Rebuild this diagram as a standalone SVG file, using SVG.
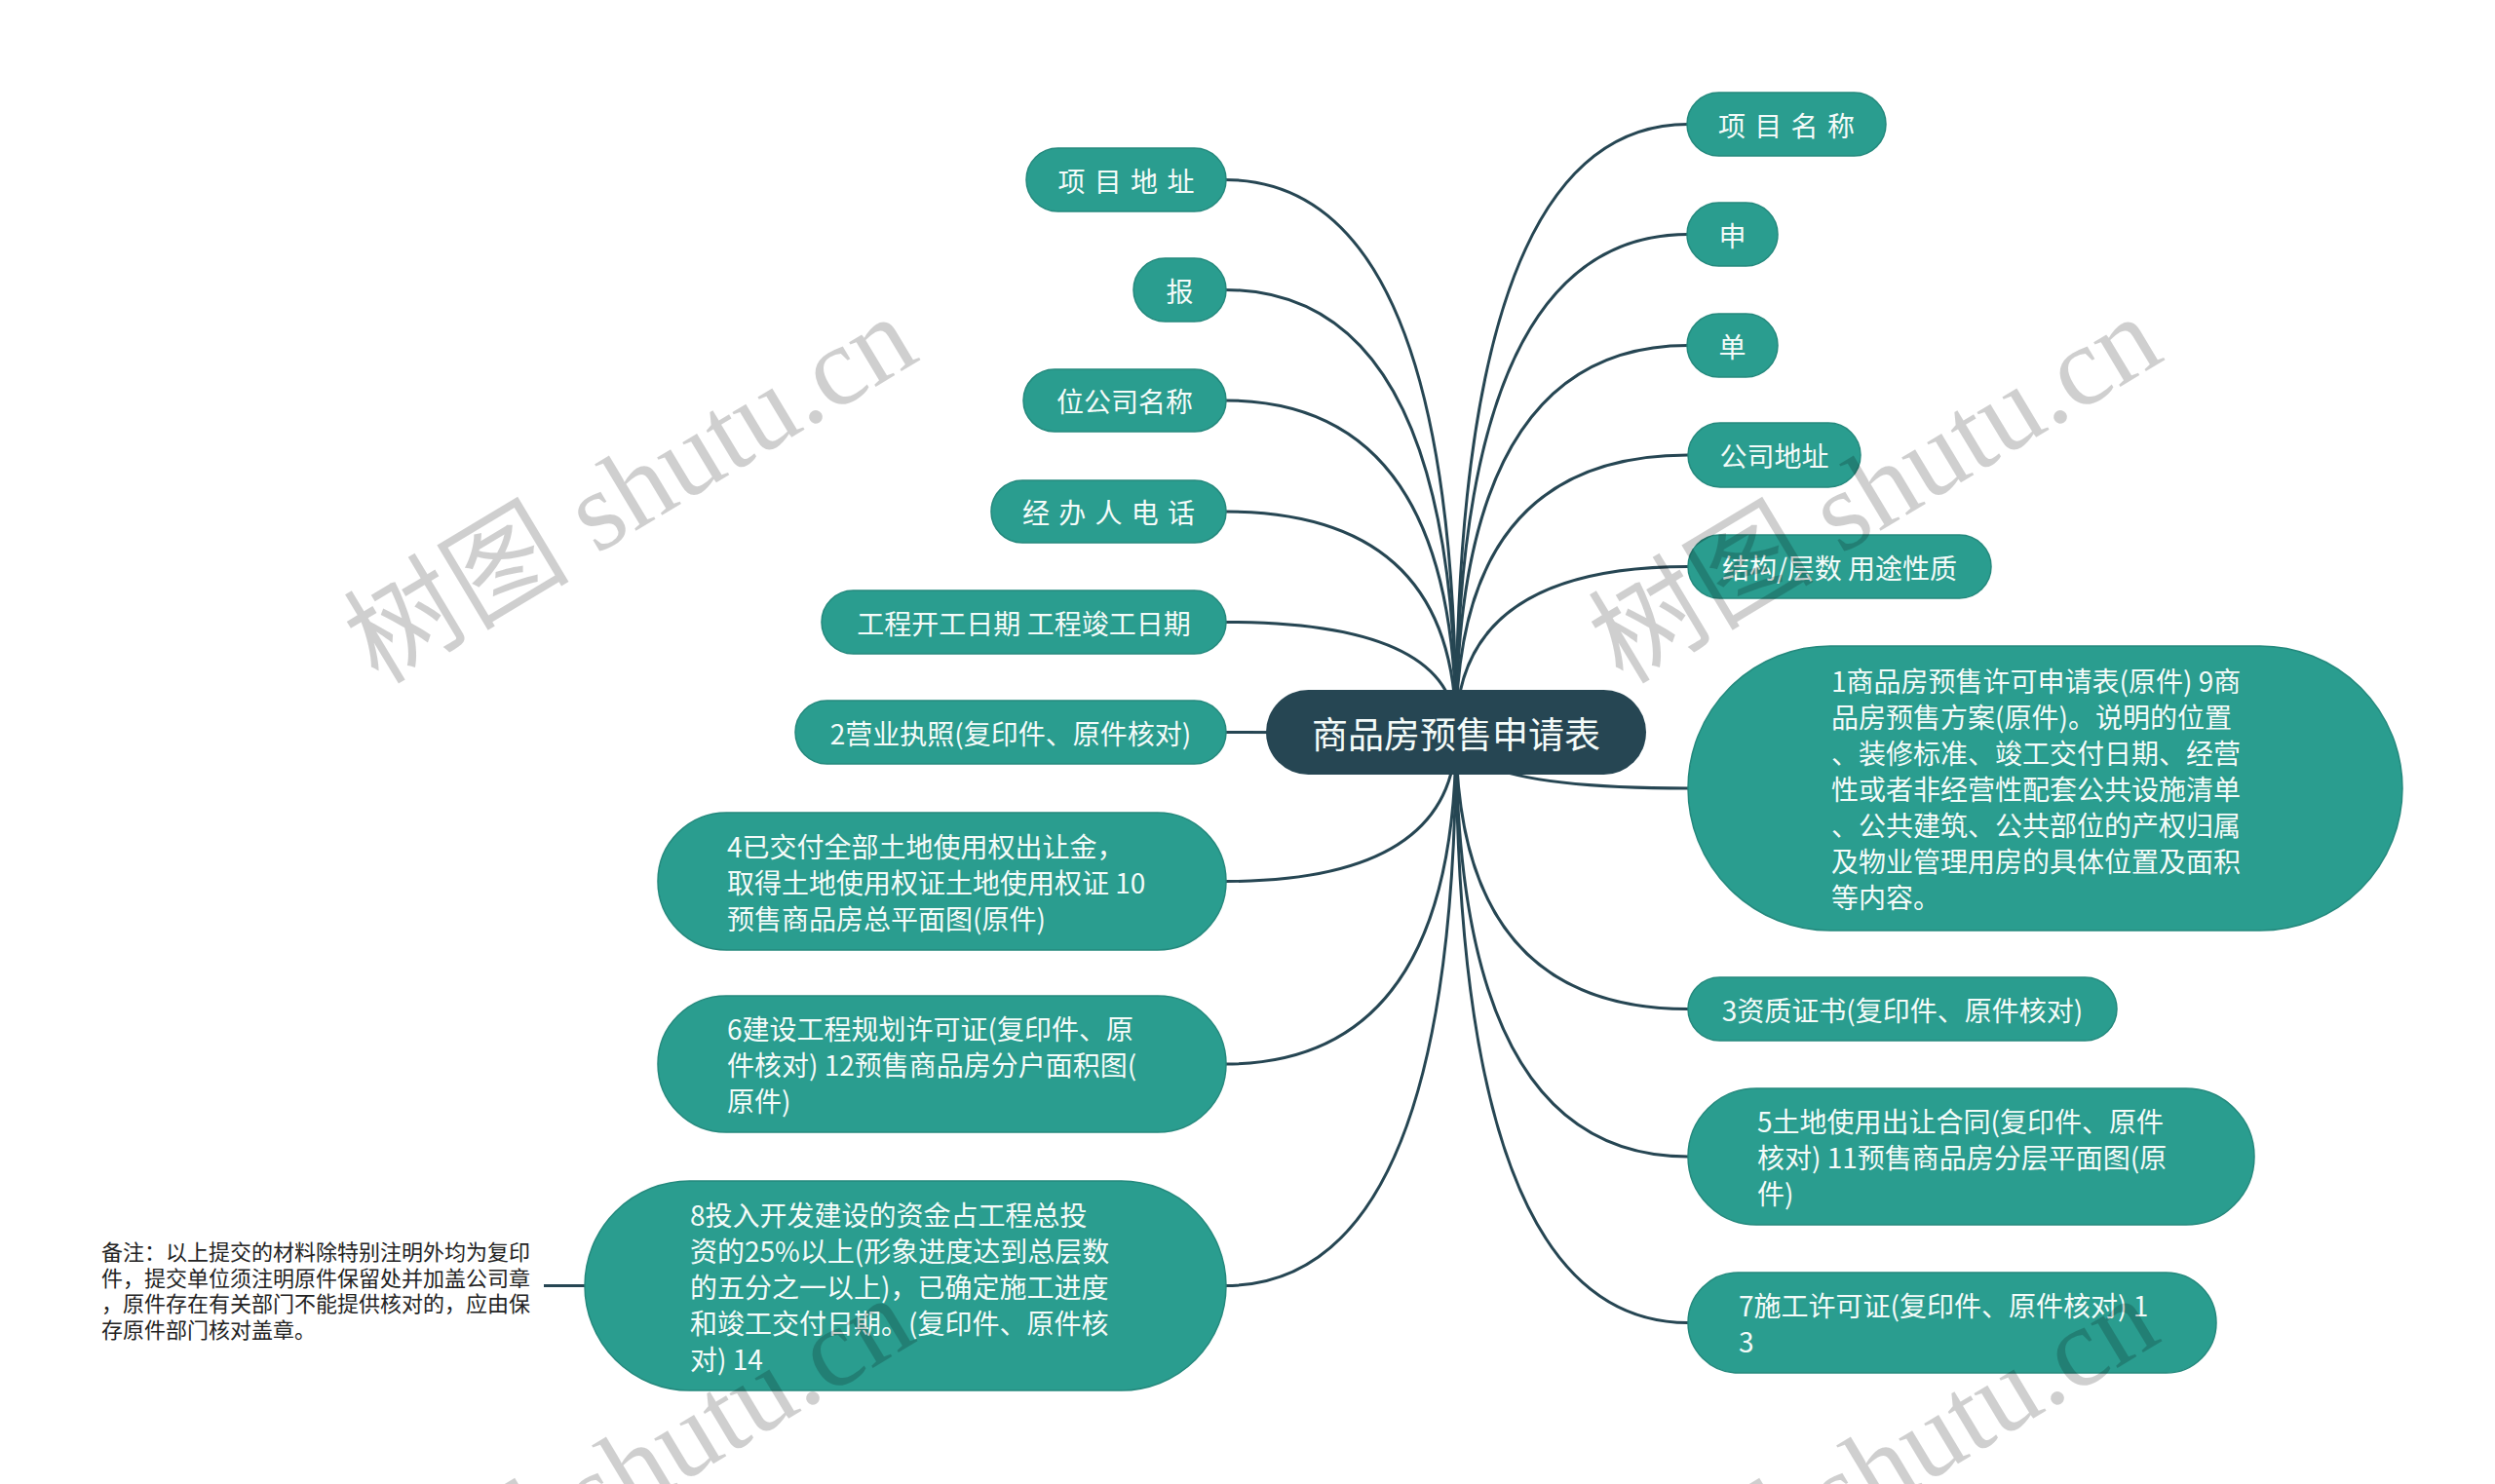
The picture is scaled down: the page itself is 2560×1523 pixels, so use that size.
<svg xmlns="http://www.w3.org/2000/svg" width="2560" height="1523" viewBox="0 0 2560 1523">
<style>
.n rect{fill:#2a9d8f;stroke:#24897d;stroke-width:1.5}
.n text{fill:#f4fbf9;font-family:"Noto Sans CJK SC","Liberation Sans",sans-serif;font-size:28px;dominant-baseline:central}
.c{text-anchor:middle}
.sp{word-spacing:3px}
#links path{fill:none;stroke:#264653;stroke-width:3}
#root rect{fill:#264653}
#root text{fill:#f4fbf9;font-family:"Noto Sans CJK SC","Liberation Sans",sans-serif;font-size:37px;dominant-baseline:central;text-anchor:middle}
.note{fill:#222;font-family:"Noto Sans CJK SC","Liberation Sans",sans-serif;font-size:22px;dominant-baseline:central}
.wm{font-family:"Liberation Serif","Noto Sans CJK SC",serif;font-size:116px;fill:#000;fill-opacity:.19;text-anchor:middle}
</style>
<rect width="2560" height="1523" fill="#fff"/>
<g id="links">
<path d="M1494 752Q1494 184.5 1257 184.5"/>
<path d="M1494 752Q1494 297.5 1257 297.5"/>
<path d="M1494 752Q1494 411 1257 411"/>
<path d="M1494 752Q1494 525 1257 525"/>
<path d="M1494 752Q1494 638.5 1257 638.5"/>
<path d="M1494 752Q1494 751.5 1257 751.5"/>
<path d="M1494 752Q1494 904.5 1257 904.5"/>
<path d="M1494 752Q1494 1092 1257 1092"/>
<path d="M1494 752Q1494 1319.5 1257 1319.5"/>
<path d="M1494 752Q1494 127.5 1732 127.5"/>
<path d="M1494 752Q1494 240.5 1732 240.5"/>
<path d="M1494 752Q1494 354.5 1732 354.5"/>
<path d="M1494 752Q1494 467 1732 467"/>
<path d="M1494 752Q1494 581.5 1732 581.5"/>
<path d="M1494 752Q1494 809 1732 809"/>
<path d="M1494 752Q1494 1035.5 1732 1035.5"/>
<path d="M1494 752Q1494 1187 1732 1187"/>
<path d="M1494 752Q1494 1357.5 1732 1357.5"/>
<path d="M558 1319.5H601"/>
</g>
<g id="root"><rect x="1299" y="708" width="390" height="87" rx="43.5"/><text x="1494" y="752">商品房预售申请表</text></g>

<g id="l1" class="n"><rect x="1053" y="152" width="205" height="65" rx="32.5"/><text class="c sp" x="1155.5" y="184.5">项 目 地 址</text></g>
<g id="l2" class="n"><rect x="1163" y="265" width="95" height="65" rx="32.5"/><text class="c" x="1210.5" y="297.5">报</text></g>
<g id="l3" class="n"><rect x="1050" y="379" width="208" height="64" rx="32"/><text class="c" x="1154" y="411">位公司名称</text></g>
<g id="l4" class="n"><rect x="1017" y="493" width="241" height="64" rx="32"/><text class="c sp" x="1137.5" y="525">经 办 人 电 话</text></g>
<g id="l5" class="n"><rect x="843" y="606" width="415" height="65" rx="32.5"/><text class="c" x="1050.5" y="638.5">工程开工日期 工程竣工日期</text></g>
<g id="l6" class="n"><rect x="816" y="719" width="442" height="65" rx="32.5"/><text class="c" x="1037" y="751.5">2营业执照(复印件、原件核对)</text></g>
<g id="l7" class="n"><rect x="675" y="834" width="583" height="141" rx="70.5"/><text><tspan x="746" y="867.5">4已交付全部土地使用权出让金，</tspan><tspan x="746" y="904.5">取得土地使用权证土地使用权证 10</tspan><tspan x="746" y="941.5">预售商品房总平面图(原件)</tspan></text></g>
<g id="l8" class="n"><rect x="675" y="1022" width="583" height="140" rx="70"/><text><tspan x="746" y="1055">6建设工程规划许可证(复印件、原</tspan><tspan x="746" y="1092">件核对) 12预售商品房分户面积图(</tspan><tspan x="746" y="1129">原件)</tspan></text></g>
<g id="l9" class="n"><rect x="600" y="1212" width="658" height="215" rx="107.5"/><text><tspan x="708" y="1245.5">8投入开发建设的资金占工程总投</tspan><tspan x="708" y="1282.5">资的25%以上(形象进度达到总层数</tspan><tspan x="708" y="1319.5">的五分之一以上)，已确定施工进度</tspan><tspan x="708" y="1356.5">和竣工交付日期。(复印件、原件核</tspan><tspan x="708" y="1393.5">对) 14</tspan></text></g>

<g id="r1" class="n"><rect x="1731" y="95" width="204" height="65" rx="32.5"/><text class="c sp" x="1833" y="127.5">项 目 名 称</text></g>
<g id="r2" class="n"><rect x="1731" y="208" width="93" height="65" rx="32.5"/><text class="c" x="1777.5" y="240.5">申</text></g>
<g id="r3" class="n"><rect x="1731" y="322" width="93" height="65" rx="32.5"/><text class="c" x="1777.5" y="354.5">单</text></g>
<g id="r4" class="n"><rect x="1732" y="434" width="177" height="66" rx="33"/><text class="c" x="1820.5" y="467">公司地址</text></g>
<g id="r5" class="n"><rect x="1732" y="549" width="311" height="65" rx="32.5"/><text class="c" x="1887.5" y="581.5">结构/层数 用途性质</text></g>
<g id="r6" class="n"><rect x="1732" y="663" width="733" height="292" rx="146"/><text><tspan x="1879" y="698">1商品房预售许可申请表(原件) 9商</tspan><tspan x="1879" y="735">品房预售方案(原件)。说明的位置</tspan><tspan x="1879" y="772">、装修标准、竣工交付日期、经营</tspan><tspan x="1879" y="809">性或者非经营性配套公共设施清单</tspan><tspan x="1879" y="846">、公共建筑、公共部位的产权归属</tspan><tspan x="1879" y="883">及物业管理用房的具体位置及面积</tspan><tspan x="1879" y="920">等内容。</tspan></text></g>
<g id="r7" class="n"><rect x="1732" y="1003" width="440" height="65" rx="32.5"/><text class="c" x="1952" y="1035.5">3资质证书(复印件、原件核对)</text></g>
<g id="r8" class="n"><rect x="1732" y="1117" width="581" height="140" rx="70"/><text><tspan x="1803" y="1150">5土地使用出让合同(复印件、原件</tspan><tspan x="1803" y="1187">核对) 11预售商品房分层平面图(原</tspan><tspan x="1803" y="1224">件)</tspan></text></g>
<g id="r9" class="n"><rect x="1732" y="1306" width="542" height="103" rx="51.5"/><text><tspan x="1784" y="1339">7施工许可证(复印件、原件核对) 1</tspan><tspan x="1784" y="1376">3</tspan></text></g>

<g id="note"><text class="note"><tspan x="104" y="1283">备注：以上提交的材料除特别注明外均为复印</tspan><tspan x="104" y="1309.5">件，提交单位须注明原件保留处并加盖公司章</tspan><tspan x="104" y="1336">，原件存在有关部门不能提供核对的，应由保</tspan><tspan x="104" y="1362.5">存原件部门核对盖章。</tspan></text></g>

<g id="watermark">
<text class="wm" x="667" y="536" transform="rotate(-31 667 536)">树图 shutu.cn</text>
<text class="wm" x="1944" y="536" transform="rotate(-31 1944 536)">树图 shutu.cn</text>
<text class="wm" x="664" y="1543" transform="rotate(-31 664 1543)">树图 shutu.cn</text>
<text class="wm" x="1941" y="1543" transform="rotate(-31 1941 1543)">树图 shutu.cn</text>
</g>
</svg>
